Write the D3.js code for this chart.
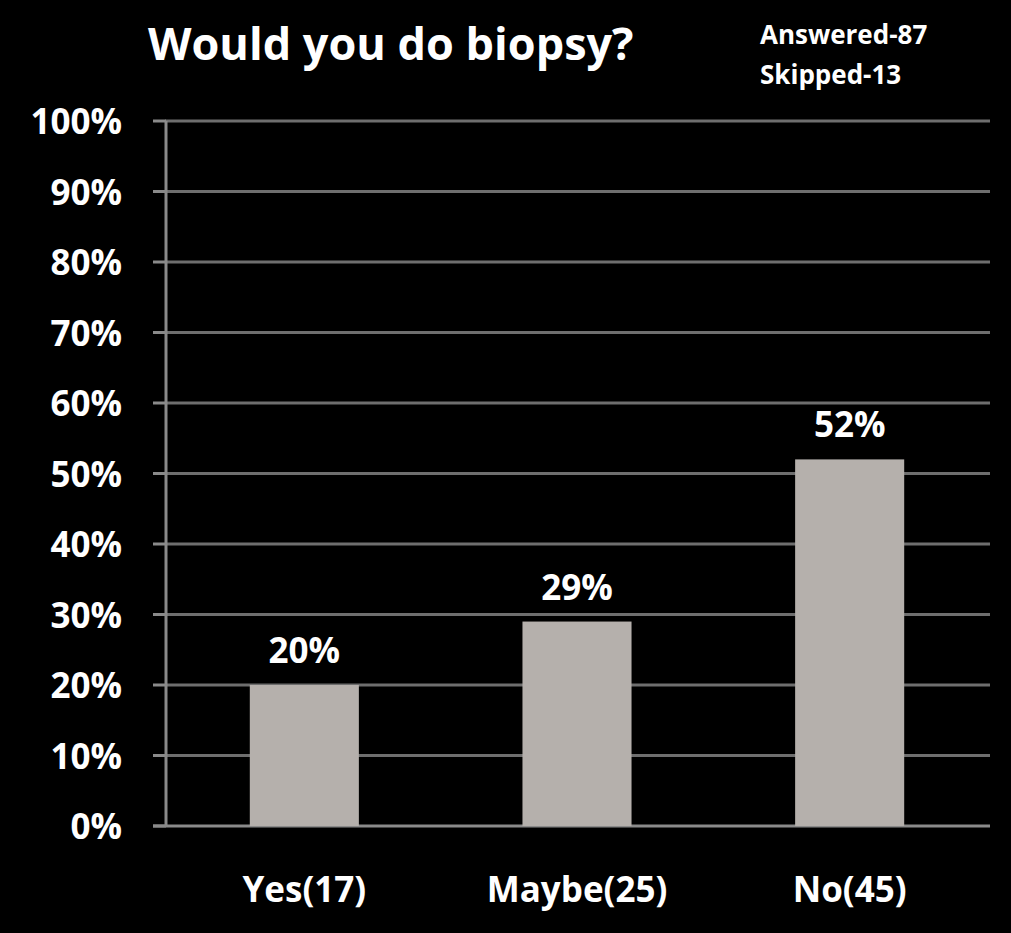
<!DOCTYPE html>
<html><head><meta charset="utf-8">
<script src="https://cdn.jsdelivr.net/npm/d3@7"></script>
<style>body{margin:0;background:#000}</style></head>
<body><svg id="c" width="1011" height="933"></svg>
<script>
const categories=["Yes(17)","Maybe(25)","No(45)"];
const values=[20,29,52];
const ticks=[0,10,20,30,40,50,60,70,80,90,100];
const svg=d3.select("#c");
svg.append("rect").attr("width",1011).attr("height",933).attr("fill","#000");
const x=d3.scaleBand().domain(categories).range([168,986]).paddingInner(0.6).paddingOuter(0.3);
const y=d3.scaleLinear().domain([0,100]).range([826,121]);
const font="'Open Sans','DejaVu Sans',sans-serif";
svg.append("g").selectAll("line").data(ticks.filter(t=>t>0)).join("line")
 .attr("x1",165).attr("x2",990).attr("y1",d=>y(d)).attr("y2",d=>y(d))
 .attr("stroke","#6e6e6e").attr("stroke-width",3);
svg.append("g").selectAll("line").data(ticks).join("line")
 .attr("x1",153).attr("x2",166).attr("y1",d=>y(d)).attr("y2",d=>y(d))
 .attr("stroke","#8a8a8a").attr("stroke-width",3);
svg.append("line").attr("x1",166).attr("x2",166).attr("y1",y(100)).attr("y2",y(0)).attr("stroke","#8a8a8a").attr("stroke-width",3);
svg.append("line").attr("x1",153).attr("x2",990).attr("y1",y(0)).attr("y2",y(0)).attr("stroke","#8a8a8a").attr("stroke-width",3);
svg.append("g").selectAll("text").data(ticks).join("text")
 .attr("x",122).attr("y",d=>y(d)+13).attr("text-anchor","end")
 .attr("fill","#fff").attr("font-family",font).attr("font-weight","bold").attr("font-size",35)
 .text(d=>d+"%");
svg.append("g").selectAll("rect").data(values).join("rect")
 .attr("x",(d,i)=>x(categories[i])).attr("width",x.bandwidth())
 .attr("y",d=>y(d)).attr("height",d=>y(0)-y(d)).attr("fill","#b5b0ac");
svg.append("g").selectAll("text").data(values).join("text")
 .attr("x",(d,i)=>x(categories[i])+x.bandwidth()/2).attr("y",d=>y(d)-22)
 .attr("text-anchor","middle").attr("fill","#fff").attr("font-family",font).attr("font-weight","bold").attr("font-size",35)
 .text(d=>d+"%");
svg.append("g").selectAll("text").data(categories).join("text")
 .attr("x",d=>x(d)+x.bandwidth()/2).attr("y",902).attr("text-anchor","middle")
 .attr("fill","#fff").attr("font-family",font).attr("font-weight","bold").attr("font-size",35).text(d=>d);
svg.append("text").attr("x",148).attr("y",60).attr("fill","#fff").attr("font-family",font)
 .attr("font-weight","bold").attr("font-size",45).text("Would you do biopsy?");
svg.append("text").attr("x",760).attr("y",44).attr("fill","#fff").attr("font-family",font)
 .attr("font-weight","bold").attr("font-size",26).text("Answered-87");
svg.append("text").attr("x",760).attr("y",84).attr("fill","#fff").attr("font-family",font)
 .attr("font-weight","bold").attr("font-size",26).text("Skipped-13");
</script></body></html>
